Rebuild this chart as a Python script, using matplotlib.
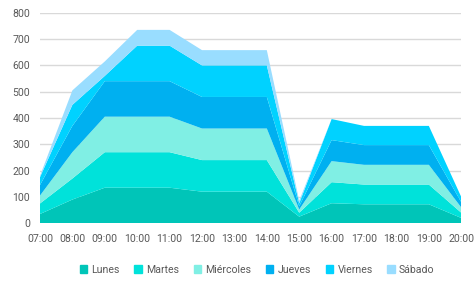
import matplotlib.pyplot as plt
from matplotlib.patches import Patch

horas = ["07:00", "08:00", "09:00", "10:00", "11:00", "12:00", "13:00",
         "14:00", "15:00", "16:00", "17:00", "18:00", "19:00", "20:00"]

lunes = [35, 90, 135, 135, 135, 120, 120, 120, 25, 76, 72, 72, 72, 20]
martes = [40, 80, 135, 135, 135, 120, 120, 120, 15, 80, 75, 75, 75, 20]
miercoles = [30, 100, 135, 135, 135, 120, 120, 120, 12, 80, 75, 75, 75, 20]
jueves = [40, 100, 135, 135, 135, 120, 120, 120, 12, 80, 75, 75, 75, 20]
viernes = [30, 80, 20, 135, 135, 120, 120, 120, 12, 80, 73, 73, 73, 20]
sabado = [5, 55, 55, 60, 60, 58, 58, 58, 10, 0, 0, 0, 0, 0]

series = [lunes, martes, miercoles, jueves, viernes, sabado]
nombres = ["Lunes", "Martes", "Miércoles", "Jueves", "Viernes", "Sábado"]
colores = ["#00c5b8", "#00e2da", "#80efe4", "#00b0f0", "#00d2ff", "#99ddff"]

plt.rcParams["font.family"] = ["Roboto", "DejaVu Sans"]
plt.rcParams["font.stretch"] = "condensed"

fig = plt.figure(figsize=(4.76, 2.84), dpi=100)
ax = fig.add_axes([0.084, 0.214, 0.885, 0.741])

x = list(range(len(horas)))
ax.stackplot(x, *series, colors=colores, linewidth=0)

ax.set_xlim(0, len(horas) - 1)
ax.set_ylim(0, 800)
ax.set_yticks(range(0, 801, 100))
ax.set_xticks(x)
ax.set_xticklabels(horas)
ax.yaxis.grid(True, color="#d9d9d9", linewidth=1)
ax.set_axisbelow(True)
for s in ax.spines.values():
    s.set_visible(False)
ax.tick_params(length=0, colors="#595959", labelsize=7.6)
ax.tick_params(axis="x", pad=8)
ax.tick_params(axis="y", pad=7)

handles = [Patch(color=c, label=n) for c, n in zip(colores, nombres)]
fig.legend(handles=handles, loc="center", bbox_to_anchor=(0.54, 0.05), ncol=6,
           frameon=False, fontsize=7.6, handlelength=0.7, handleheight=0.7,
           handletextpad=0.4, columnspacing=1.4, labelcolor="#595959")

fig.savefig("out.png")
